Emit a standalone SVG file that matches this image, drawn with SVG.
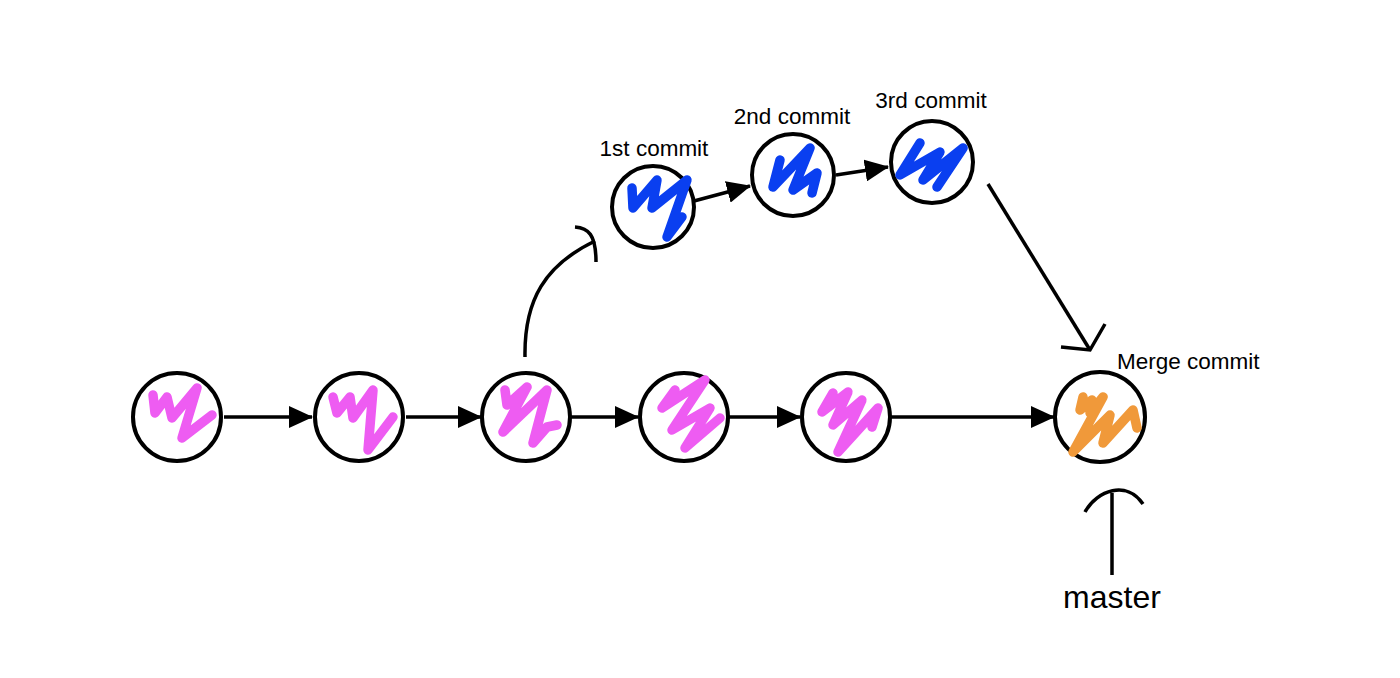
<svg xmlns="http://www.w3.org/2000/svg" width="1400" height="678" viewBox="0 0 1400 678">
<style>
.c{fill:#fff;stroke:#000;stroke-width:4}
.s{fill:none;stroke-width:9.5;stroke-linecap:round;stroke-linejoin:round}
.p{stroke:#ee5cf2}
.b{stroke:#0a3ff0}
.o{stroke:#f0993a}
.l{fill:none;stroke:#000;stroke-width:3.5;stroke-linecap:butt}
.t{font-family:"Liberation Sans",Arial,sans-serif;font-size:22.5px;fill:#000}
</style>
<defs>
<marker id="ah" markerUnits="userSpaceOnUse" markerWidth="24" markerHeight="22" refX="23" refY="11" orient="auto">
<path d="M0,0 L24,11 L0,22 Z" fill="#000"/>
</marker>
</defs>
<g id="connectors">
<line class="l" x1="224" y1="417" x2="312" y2="417" marker-end="url(#ah)"/>
<line class="l" x1="406" y1="417" x2="481" y2="417" marker-end="url(#ah)"/>
<line class="l" x1="571" y1="417" x2="638" y2="417" marker-end="url(#ah)"/>
<line class="l" x1="729" y1="417" x2="800" y2="417" marker-end="url(#ah)"/>
<line class="l" x1="891" y1="417" x2="1054" y2="417" marker-end="url(#ah)"/>
<line class="l" x1="694" y1="201" x2="750" y2="186" marker-end="url(#ah)"/>
<line class="l" x1="836" y1="175" x2="888" y2="167" marker-end="url(#ah)"/>
<path class="l" d="M525,357 C524,300 545,265 595,241"/>
<path class="l" d="M575,227 C588,228 596,234 596,262"/>
<path class="l" d="M988,184 L1090,350"/>
<path class="l" d="M1061,347 L1090,350 L1105,324"/>
<path class="l" d="M1112,493 L1112,575"/>
<path class="l" d="M1085,512 C1097,490 1127,480 1143,504"/>
</g>
<g id="n1"><circle class="c" cx="177" cy="417" r="44"/><polyline class="s p" points="153,395 155,413 167,397 172,418 197,388 182,438 212,415"/></g>
<g id="n2"><circle class="c" cx="359" cy="417" r="44"/><polyline class="s p" points="333,397 337,413 350,397 353,418 373,390 368,450 393,417"/></g>
<g id="n3"><circle class="c" cx="526" cy="417" r="44"/><polyline class="s p" points="505,390 507,405 527,387 503,432 547,390 533,443 547,427 557,425"/></g>
<g id="n4"><circle class="c" cx="684" cy="417" r="44"/><polyline class="s p" points="675,390 662,408 705,380 672,430 710,408 685,448 720,418"/></g>
<g id="n5"><circle class="c" cx="846" cy="417" r="44"/><polyline class="s p" points="833,393 822,412 848,392 833,425 862,400 838,452 878,408 872,427"/></g>
<g id="c1"><circle class="c" cx="653" cy="207" r="41"/><polyline class="s b" points="632,188 633,208 657,180 652,208 687,180 667,237 682,217"/></g>
<g id="c2"><circle class="c" cx="793" cy="175" r="41"/><polyline class="s b" points="780,160 773,187 810,148 793,190 817,173 812,193"/></g>
<g id="c3"><circle class="c" cx="932" cy="162" r="41"/><polyline class="s b" points="920,143 900,175 940,152 923,180 963,148 937,187"/></g>
<g id="merge"><circle class="c" cx="1100" cy="417" r="45"/><polyline class="s o" points="1083,397 1080,410 1092,400 1090,413 1103,397 1073,452 1110,415 1103,443 1133,410 1137,428"/></g>
<g id="labels">
<text class="t" x="654" y="156" text-anchor="middle">1st commit</text>
<text class="t" x="792" y="124" text-anchor="middle">2nd commit</text>
<text class="t" x="931" y="108" text-anchor="middle">3rd commit</text>
<text class="t" x="1117" y="369">Merge commit</text>
<text class="t" x="1112" y="608" text-anchor="middle" style="font-size:32px">master</text>
</g>
</svg>
